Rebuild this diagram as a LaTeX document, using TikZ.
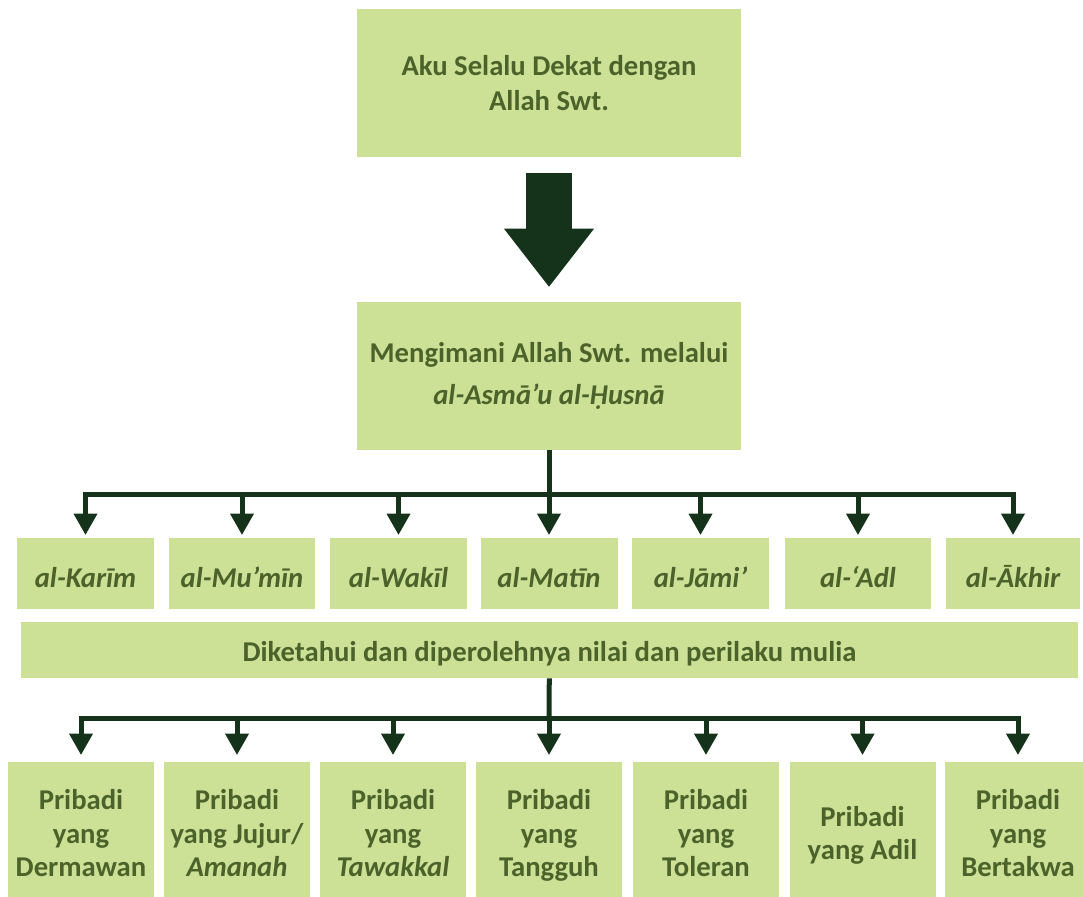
\documentclass[tikz,border=0pt]{standalone}
\usepackage{fontspec}
\setmainfont{Carlito}
\usepackage{xcolor}
\usepackage{tikz}
\usetikzlibrary{arrows.meta, positioning, calc}

\definecolor{boxgreen}{HTML}{CCE096}
\definecolor{textgreen}{HTML}{4B632B}
\definecolor{arrowgreen}{HTML}{15321A}

\begin{document}
\begin{tikzpicture}[
    x=0.75pt, y=-0.75pt,
    box/.style={fill=boxgreen, text=textgreen, inner sep=0pt, align=center, font=\fontsize{21.5}{26}\selectfont\bfseries},
    nama/.style={box, minimum height=53.25pt, text height=20.5pt, text depth=0pt, font=\fontsize{21.5}{26}\selectfont\bfseries\itshape},
    sifat/.style={box, minimum width=109.5pt, minimum height=114pt, font=\fontsize{21.5}{25}\selectfont\bfseries},
    line/.style={draw=arrowgreen, line width=3.75pt},
    arrow/.style={line, -{Triangle[length=15.75pt, width=18pt, line width=0pt]}},
    bigarrow/.style={draw=arrowgreen, line width=34.5pt, -{Triangle[length=43.5pt, width=67.5pt, line width=0pt]}}
]
    \useasboundingbox (0,0) rectangle (1083,897);

    % top
    \node[box, minimum width=288pt, minimum height=111pt] at (549,83) (aku) {Aku Selalu Dekat dengan\\Allah Swt.};
    \node[box, minimum width=288pt, minimum height=111pt] at (549,376) (iman) {Mengimani Allah Swt. melalui\\[6pt]\textit{al-Asmā’u al-Ḥusnā}};
    \draw[bigarrow, shorten <=12pt, shorten >=11.25pt] (aku) -- (iman);

    % asmaul husna
    \node[nama, minimum width=102.75pt] at (85.5,573.5) (karim) {al-Karīm};
    \node[nama, minimum width=109.5pt] at (242,573.5) (mumin) {al-Mu’mīn};
    \node[nama, minimum width=102.75pt] at (398.5,573.5) (wakil) {al-Wakīl};
    \node[nama, minimum width=102.75pt] at (549,573.5) (matin) {al-Matīn};
    \node[nama, minimum width=102.75pt] at (700.5,573.5) (jami) {al-Jāmi’};
    \node[nama, minimum width=109.5pt] at (858,573.5) (adl) {al-‘Adl};
    \node[nama, minimum width=100.5pt] at (1013,573.5) (akhir) {al-Ākhir};

    \coordinate (bus1) at (549,494.5);
    \draw[arrow, shorten >=2.25pt] (iman) -- (matin);
    \draw[arrow, shorten >=2.25pt] (bus1) -| (karim);
    \draw[arrow, shorten >=2.25pt] (bus1) -| (mumin);
    \draw[arrow, shorten >=2.25pt] (bus1) -| (wakil);
    \draw[arrow, shorten >=2.25pt] (bus1) -| (jami);
    \draw[arrow, shorten >=2.25pt] (bus1) -| (adl);
    \draw[arrow, shorten >=2.25pt] (bus1) -| (akhir);

    % nilai
    \node[box, minimum width=792.75pt, minimum height=42pt, text height=19pt, text depth=2pt] at (549.5,650) (nilai) {Diketahui dan diperolehnya nilai dan perilaku mulia};

    % pribadi
    \node[sifat] at (81,838) (dermawan) {Pribadi\\yang\\Dermawan\strut};
    \node[sifat] at (237,838) (jujur) {Pribadi\\yang Jujur/\\\textit{Amanah}\strut};
    \node[sifat] at (393,838) (tawakkal) {Pribadi\\yang\\\textit{Tawakkal}\strut};
    \node[sifat] at (549,838) (tangguh) {Pribadi\\yang\\Tangguh\strut};
    \node[sifat] at (706,838) (toleran) {Pribadi\\yang\\Toleran\strut};
    \node[sifat] at (862.5,838) (adil) {Pribadi\\yang Adil\strut};
    \node[sifat] at (1018,838) (bertakwa) {Pribadi\\yang\\Bertakwa\strut};

    \coordinate (bus2) at (549,718.5);
    \draw[line] (nilai) -- (bus2);
    \draw[arrow, shorten >=5.25pt] (bus2) -- (tangguh);
    \draw[arrow, shorten >=5.25pt] (bus2) -| (dermawan);
    \draw[arrow, shorten >=5.25pt] (bus2) -| (jujur);
    \draw[arrow, shorten >=5.25pt] (bus2) -| (tawakkal);
    \draw[arrow, shorten >=5.25pt] (bus2) -| (toleran);
    \draw[arrow, shorten >=5.25pt] (bus2) -| (adil);
    \draw[arrow, shorten >=5.25pt] (bus2) -| (bertakwa);
\end{tikzpicture}
\end{document}
